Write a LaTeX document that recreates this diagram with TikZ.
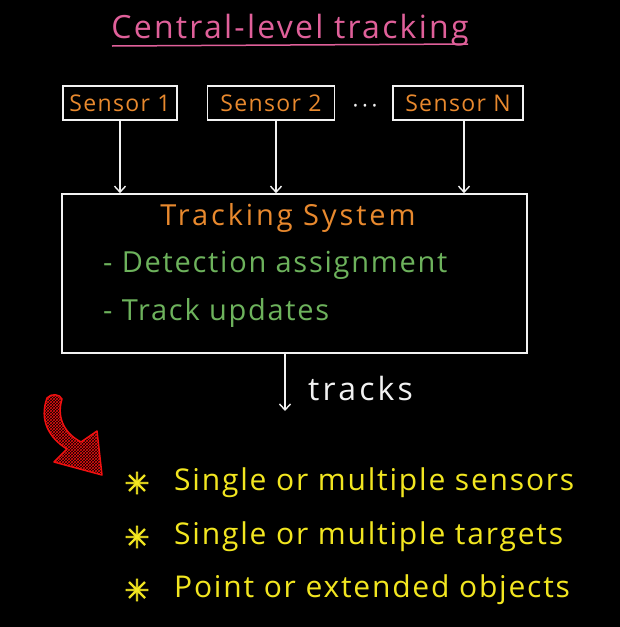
\documentclass[tikz,border=0pt]{standalone}
\usepackage{fontspec}
\setmainfont{Open Sans}
\newfontfamily\symfont[FakeBold=2.5]{DejaVu Sans}
\usetikzlibrary{arrows.meta,patterns}
\definecolor{tpink}{HTML}{E0609A}
\definecolor{torange}{HTML}{E8892E}
\definecolor{tgreen}{HTML}{6DB25C}
\definecolor{tyellow}{HTML}{F2E620}
\definecolor{tline}{HTML}{F2F2F2}
\definecolor{tred}{HTML}{F01010}
\newcommand{\spaced}[1]{\addfontfeatures{LetterSpace=#1}}
\begin{document}
\begin{tikzpicture}[x=1pt,y=-1pt,
  sensorbox/.style={draw=tline,line width=1.6pt,minimum height=34pt,inner sep=2pt,text=torange,font=\fontsize{23}{26}\selectfont\spaced{6}},
  sysbox/.style={draw=tline,line width=1.6pt,minimum width=465pt,minimum height=159pt},
  flow/.style={draw=tline,line width=1.4pt,-{Straight Barb[length=6pt,width=11pt,line width=1.4pt]}},
  greentxt/.style={text=tgreen,anchor=west,inner sep=0pt,font=\fontsize{29}{32}\selectfont\spaced{6}},
  bullettxt/.style={text=tyellow,anchor=west,inner sep=0pt,font=\fontsize{30}{34}\selectfont\spaced{6}},
  star/.style={text=tyellow,inner sep=0pt,font=\symfont\fontsize{30}{32}\selectfont}]
\fill[black] (0,0) rectangle (620,627);
\useasboundingbox (0,0) rectangle (620,627);
% title
\node[text=tpink,inner sep=0pt,font=\fontsize{32}{36}\selectfont\spaced{7}] (title) at (290,30) {Central-level tracking};
\coordinate (ulA) at (112,46);
\coordinate (ulB) at (468,44);
\draw[tpink,line width=1.5pt] (ulA) -- (ulB);
% sensors
\node[sensorbox,minimum width=114pt] (s1) at (120,103) {Sensor 1};
\node[sensorbox,minimum width=127pt] (s2) at (271,103) {Sensor 2};
\node[sensorbox,minimum width=130pt] (sN) at (458,103) {Sensor N};
\node[text=tline,inner sep=0pt,font=\fontsize{22}{24}\selectfont] (dots) at (365,109) {·\,·\,·};
% system
\node[sysbox] (sys) at (294.5,273.5) {};
\node[text=torange,inner sep=0pt,font=\fontsize{29}{32}\selectfont\spaced{10}] (systitle) at (288,218) {Tracking System};
\node[greentxt] (det) at (103,265) {- Detection assignment};
\node[greentxt] (upd) at (103,313) {- Track updates};
\draw[flow] (s1.south) -- (s1.south |- sys.north);
\draw[flow] ([xshift=5pt]s2.south) -- ([xshift=5pt]s2.south |- sys.north);
\draw[flow] ([xshift=6pt]sN.south) -- ([xshift=6pt]sN.south |- sys.north);
% output
\coordinate (outA) at (285,353);
\coordinate (outB) at (285,411);
\draw[flow] (outA) -- (outB);
\node[text=tline,anchor=west,inner sep=0pt,font=\fontsize{32}{36}\selectfont\spaced{10}] (tracks) at (308,388) {tracks};
% red curved arrow
\draw[tred,line width=1.5pt,line join=round,pattern=crosshatch,pattern color=tred]
  (47,398) .. controls (51,393) and (60,394) .. (62,399)
  .. controls (57,415) and (62,432) .. (81,442)
  -- (97,431) -- (102,475) -- (54,462) -- (67,449)
  .. controls (49,438) and (39,420) .. (47,398) -- cycle;
% bullets
\node[star] (b1) at (137,483) {✳};
\node[star] (b2) at (137,537) {✳};
\node[star] (b3) at (137,590) {✳};
\node[bullettxt] (t1) at (174,483) {Single or multiple sensors};
\node[bullettxt] (t2) at (174,537) {Single or multiple targets};
\node[bullettxt] (t3) at (174,590) {Point or extended objects};
\end{tikzpicture}
\end{document}
